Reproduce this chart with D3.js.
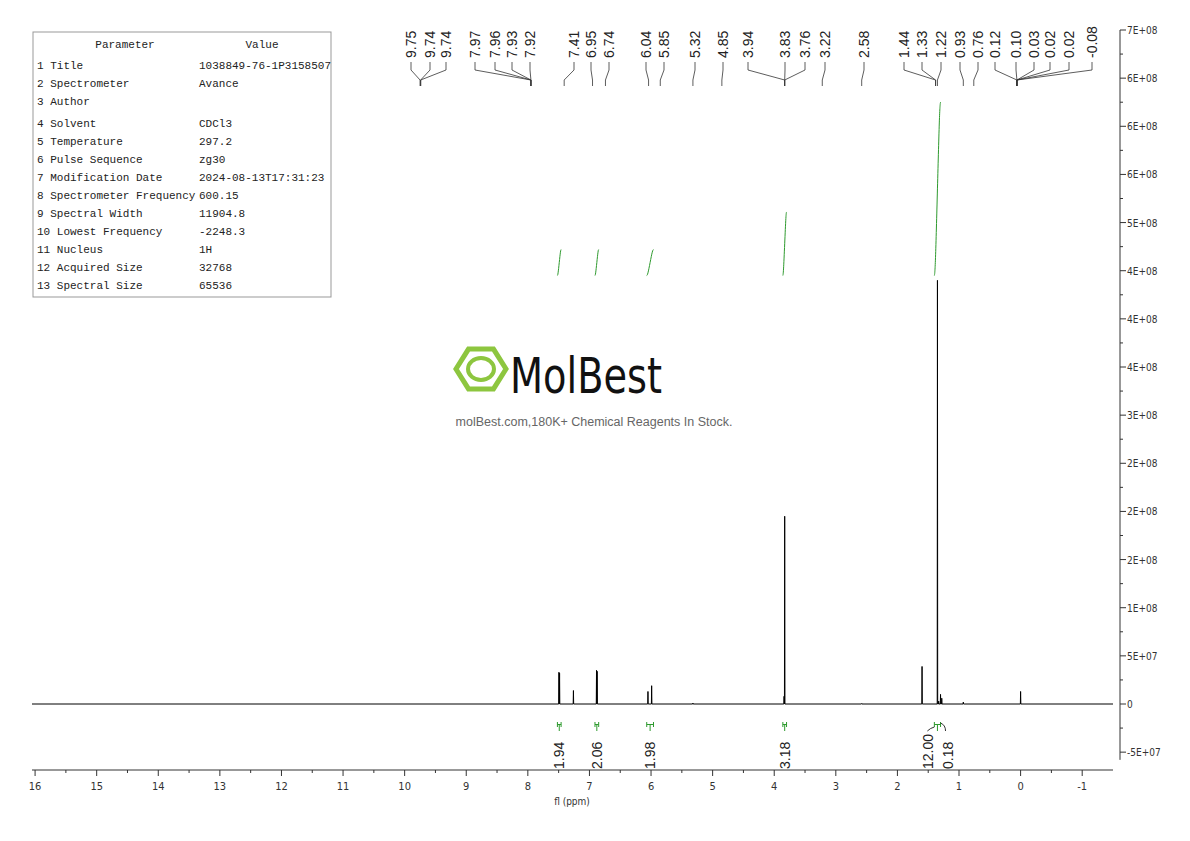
<!DOCTYPE html><html><head><meta charset="utf-8"><script src="https://cdn.jsdelivr.net/npm/d3@7"></script>
<style>body{margin:0;background:#fff}</style></head><body><svg id="c" width="1190" height="841"></svg><script>
const tableRows=[["Parameter","Value"],["1 Title","1038849-76-1P3158507"],["2 Spectrometer","Avance"],["3 Author",""],["4 Solvent","CDCl3"],["5 Temperature","297.2"],["6 Pulse Sequence","zg30"],["7 Modification Date","2024-08-13T17:31:23"],["8 Spectrometer Frequency","600.15"],["9 Spectral Width","11904.8"],["10 Lowest Frequency","-2248.3"],["11 Nucleus","1H"],["12 Acquired Size","32768"],["13 Spectral Size","65536"]];
const peaks=[[7.495,3.3e7],[7.485,3.2e7],[7.26,1.4e7],[6.885,3.5e7],[6.875,3.4e7],[6.05,1.3e7],[5.99,1.9e7],[5.32,1e6],[3.84,8e6],[3.83,1.95e8],[2.58,5e5],[1.60,3.9e7],[1.35,4.4e8],[1.33,3e6],[1.30,1.0e7],[1.28,6e6],[0.93,2e6],[0.0,1.3e7]];
const peakLabels=["9.75","9.74","9.74","7.97","7.96","7.93","7.92","7.41","6.95","6.74","6.04","5.85","5.32","4.85","3.94","3.83","3.76","3.22","2.58","1.44","1.33","1.22","0.93","0.76","0.12","0.10","0.03","0.02","0.02","-0.08"];
const peakLabelTargets=[9.75,9.74,9.74,7.95,7.95,7.95,7.95,7.41,6.95,6.74,6.04,5.85,5.32,4.85,3.83,3.83,3.83,3.22,2.58,1.38,1.38,1.35,0.93,0.76,0.06,0.06,0.06,0.06,0.06,0.06];
const peakLabelSlots=[411,430,446,475,495,512,530,574,591,609,646,664,695,723,748,785,805,825,864,904,922,941,960,978,995,1016,1034,1050,1069,1092];
const integrals=[[7.52,7.46,4.45e8,4.72e8,"1.94"],[6.91,6.85,4.45e8,4.72e8,"2.06"],[6.07,5.96,4.45e8,4.72e8,"1.98"],[3.86,3.80,4.45e8,5.11e8,"3.18"],[1.40,1.30,4.45e8,6.25e8,"12.00"]];
const extraIntegral=["0.18"];
const xTicks=d3.range(16,-2,-1);
const yTickVals=d3.range(7e8,-5.1e7,-5e7);
const yTickLabels=["7E+08","6E+08","6E+08","6E+08","5E+08","4E+08","4E+08","4E+08","3E+08","2E+08","2E+08","2E+08","1E+08","5E+07","0","-5E+07"];

const svg=d3.select("#c");
const x=d3.scaleLinear().domain([16.05,-1.5]).range([32,1113]);
const y=d3.scaleLinear().domain([0,7e8]).range([704,30]);
const ax="DejaVu Sans Condensed, Roboto";
const xa=svg.append("g").attr("transform","translate(0,770)");
xa.append("line").attr("x1",32).attr("x2",1113).attr("stroke","#333");
xTicks.forEach(t=>{xa.append("line").attr("x1",x(t)).attr("x2",x(t)).attr("y2",6).attr("stroke","#333");
 xa.append("text").attr("x",x(t)).attr("y",20).attr("text-anchor","middle").attr("font-family",ax).attr("font-size",11).attr("fill","#333").text(t);});
d3.range(15.5,-1.5,-1).forEach(t=>xa.append("line").attr("x1",x(t)).attr("x2",x(t)).attr("y2",3).attr("stroke","#333"));
svg.append("text").attr("x",572).attr("y",805).attr("text-anchor","middle").attr("font-family",ax).attr("font-size",10).attr("fill","#333").text("fl (ppm)");
const ya=svg.append("g").attr("transform","translate(1120,0)");
ya.append("line").attr("y1",y(7e8)).attr("y2",y(-5.8e7)).attr("stroke","#333");
yTickVals.forEach((v,i)=>{ya.append("line").attr("y1",y(v)).attr("y2",y(v)).attr("x2",6).attr("stroke","#333");
 ya.append("text").attr("x",7).attr("y",y(v)+4).attr("font-family",ax).attr("font-size",10).attr("fill","#333").text(yTickLabels[i]);
 if(i<yTickVals.length-1) ya.append("line").attr("y1",y(v-2.5e7)).attr("y2",y(v-2.5e7)).attr("x2",3).attr("stroke","#333");});
const pts=[[16.05,0]];
peaks.slice().sort((a,b)=>b[0]-a[0]).forEach(p=>{pts.push([p[0]+0.004,0],[p[0],p[1]],[p[0]-0.004,0]);});
pts.push([-1.5,0]);
svg.append("path").attr("d",d3.line().x(d=>x(d[0])).y(d=>y(d[1]))(pts)).attr("fill","none").attr("stroke","#000").attr("stroke-width",1);
const green="#2e9a2e";
integrals.forEach((g,i)=>{const [a,b,lo,hi,l]=g;
 const c=[[a,lo],[a-(a-b)*0.15,lo+(hi-lo)*0.03],[(a+b)/2,(lo+hi)/2],[b+(a-b)*0.15,lo+(hi-lo)*0.97],[b,hi]];
 svg.append("path").attr("d",d3.line().x(d=>x(d[0])).y(d=>y(d[1])).curve(d3.curveBasis)(c)).attr("fill","none").attr("stroke",green).attr("stroke-width",1);
 const bx=x((a+b)/2);
 svg.append("path").attr("d",`M${x(a)},722V727M${x(a)},724.5H${x(b)}M${x(b)},722V727M${bx},724.5V731`).attr("stroke",green).attr("fill","none").attr("stroke-width",1);
 svg.append("text").attr("transform",`translate(${bx+(i==4?-4:5)},769) rotate(-90)`).attr("font-family","Liberation Sans, Arial").attr("font-size",14).attr("fill","#222").text(l);});
svg.append("path").attr("d",`M${x(1.40)-7},731 q3,-3 7,-4 M${x(1.30)},723 q5,2 5,8`).attr("stroke","#333").attr("fill","none");
svg.append("text").attr("transform",`translate(${x(1.30)+12},769) rotate(-90)`).attr("font-family","Liberation Sans, Arial").attr("font-size",14).attr("fill","#222").text(extraIntegral[0]);
peakLabels.forEach((l,i)=>{const sx=peakLabelSlots[i],tx=x(peakLabelTargets[i]);
 svg.append("text").attr("transform",`translate(${sx+5},58) rotate(-90)`).attr("font-family","Liberation Sans, Arial").attr("font-size",14).attr("fill","#222").text(l);
 svg.append("path").attr("d",`M${sx},62V70L${tx},80V86`).attr("stroke","#333").attr("fill","none").attr("stroke-width",0.8);});
const tb=svg.append("g");
tb.append("rect").attr("x",33).attr("y",32).attr("width",298).attr("height",265).attr("fill","#fff").attr("stroke","#999");
const rowY=[44,65,83,101,123,141,159,177,195,213,231,249,267,285];
tableRows.forEach((r,i)=>{const f={"font-family":"Liberation Mono, DejaVu Sans Mono","font-size":11,fill:"#222"};
 const t1=tb.append("text").attr("x",i?37:125).attr("y",rowY[i]+4).attr("text-anchor",i?"start":"middle").text(r[0]);
 const t2=tb.append("text").attr("x",i?199:262).attr("y",rowY[i]+4).attr("text-anchor",i?"start":"middle").text(r[1]);
 for(const k in f){t1.attr(k,f[k]);t2.attr(k,f[k]);}});
const hex=d3.range(6).map(k=>{const a=Math.PI/3*k;return [481+25*Math.cos(a),369+23*Math.sin(a)];});
svg.append("polygon").attr("points",hex.join(" ")).attr("fill","none").attr("stroke","#8dc63f").attr("stroke-width",5);
svg.append("ellipse").attr("cx",481).attr("cy",369).attr("rx",13).attr("ry",11).attr("fill","none").attr("stroke","#8dc63f").attr("stroke-width",4);
svg.append("text").attr("x",510).attr("y",393).attr("font-family","DejaVu Sans Condensed, Roboto").attr("font-size",50).attr("fill","#111").attr("textLength",152).attr("lengthAdjust","spacingAndGlyphs").text("MolBest");
svg.append("text").attr("x",594).attr("y",426).attr("text-anchor","middle").attr("font-family","Liberation Sans, Arial").attr("font-size",12.5).attr("fill","#666").text("molBest.com,180K+ Chemical Reagents In Stock.");
</script></body></html>
